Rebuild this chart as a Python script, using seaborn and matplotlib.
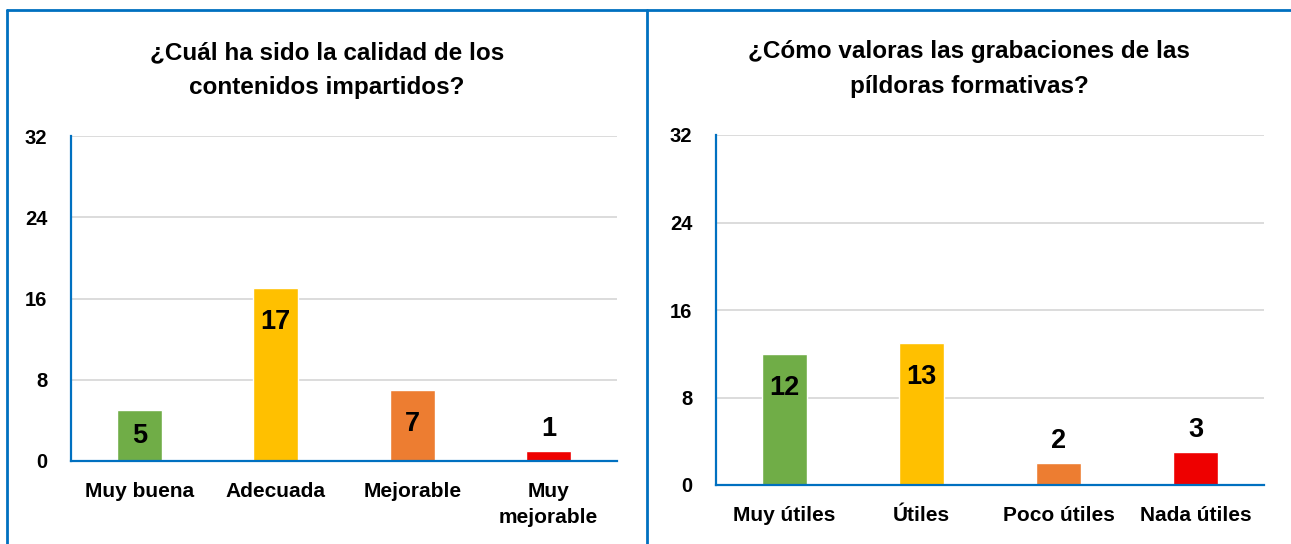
import matplotlib
matplotlib.use("Agg")
import matplotlib.pyplot as plt
import seaborn as sns
import pandas as pd
from matplotlib.lines import Line2D

# datos de las dos encuestas
cats_left = ["Muy buena", "Adecuada", "Mejorable", "Muy\nmejorable"]
vals_left = [5, 17, 7, 1]
title_left = "¿Cuál ha sido la calidad de los\ncontenidos impartidos?"

cats_right = ["Muy útiles", "Útiles", "Poco útiles", "Nada útiles"]
vals_right = [12, 13, 2, 3]
title_right = "¿Cómo valoras las grabaciones de las\npíldoras formativas?"

colores = ["#70AD47", "#FFC000", "#ED7D31", "#EE0000"]
y_ticks = [0, 8, 16, 24, 32]

sns.set_style("white")
plt.rcParams["font.family"] = ["Liberation Sans", "DejaVu Sans"]
plt.rcParams["font.weight"] = "bold"
plt.rcParams["text.color"] = "black"
plt.rcParams["xtick.labelcolor"] = "black"
plt.rcParams["ytick.labelcolor"] = "black"

AZUL = "#0070C0"
W, H = 1291, 544
fig = plt.figure(figsize=(W / 100, H / 100), dpi=100)


def px_axes(x0, x1, ytop, ybot):
    return fig.add_axes([x0 / W, 1 - ybot / H, (x1 - x0) / W, (ybot - ytop) / H])


def dibujar(ax, cats, vals, titulo, title_x, title_y):
    df = pd.DataFrame({"cat": cats, "val": vals})
    sns.barplot(data=df, x="cat", y="val", hue="cat", palette=colores,
                legend=False, width=0.33, ax=ax, saturation=1)
    ax.set_ylim(0, 32)
    ax.set_yticks(y_ticks)
    ax.set_xlim(-0.5, len(cats) - 0.5)
    ax.yaxis.grid(True, color="#D9D9D9", lw=1.3)
    ax.set_axisbelow(True)
    for s in ["top", "right"]:
        ax.spines[s].set_visible(False)
    for s in ["left", "bottom"]:
        ax.spines[s].set_color(AZUL)
        ax.spines[s].set_linewidth(1.6)
    ax.tick_params(axis="y", length=0, pad=17, labelsize=14.5, labelcolor="black")
    ax.tick_params(axis="x", length=0, pad=15, labelsize=15, labelcolor="black")
    for lab in ax.get_xticklabels() + ax.get_yticklabels():
        lab.set_fontweight("bold")
        lab.set_linespacing(1.45)
    ax.set_xlabel("")
    ax.set_ylabel("")

    # etiquetas de datos
    escala = ax.bbox.height / 32  # px por unidad
    for i, v in enumerate(vals):
        alto = v * escala
        if alto > 70:
            y, off = v, -34
        elif alto > 40:
            y, off = v / 2, 0
        else:
            y, off = v, 22
        ax.annotate(str(v), (i, y), xytext=(0, off * 0.72), textcoords="offset points",
                    ha="center", va="center", fontsize=19.5, fontweight="bold", color="black")

    fig.text(title_x, title_y, titulo, ha="center", va="center",
             fontsize=17.5, fontweight="bold", linespacing=1.65, color="black")


ax1 = px_axes(71, 617, 136, 461)
dibujar(ax1, cats_left, vals_left, title_left, 327 / W, 1 - 70 / H)

ax2 = px_axes(716, 1264, 135, 485)
dibujar(ax2, cats_right, vals_right, title_right, 969 / W, 1 - 69 / H)

# marco azul
fig.add_artist(Line2D([7 / W, 1], [1 - 10 / H, 1 - 10 / H], color=AZUL, lw=2))
fig.add_artist(Line2D([7 / W, 7 / W], [0, 1 - 10 / H], color=AZUL, lw=2))
fig.add_artist(Line2D([647 / W, 647 / W], [0, 1 - 10 / H], color=AZUL, lw=2))

fig.savefig("out.png", dpi=100)
